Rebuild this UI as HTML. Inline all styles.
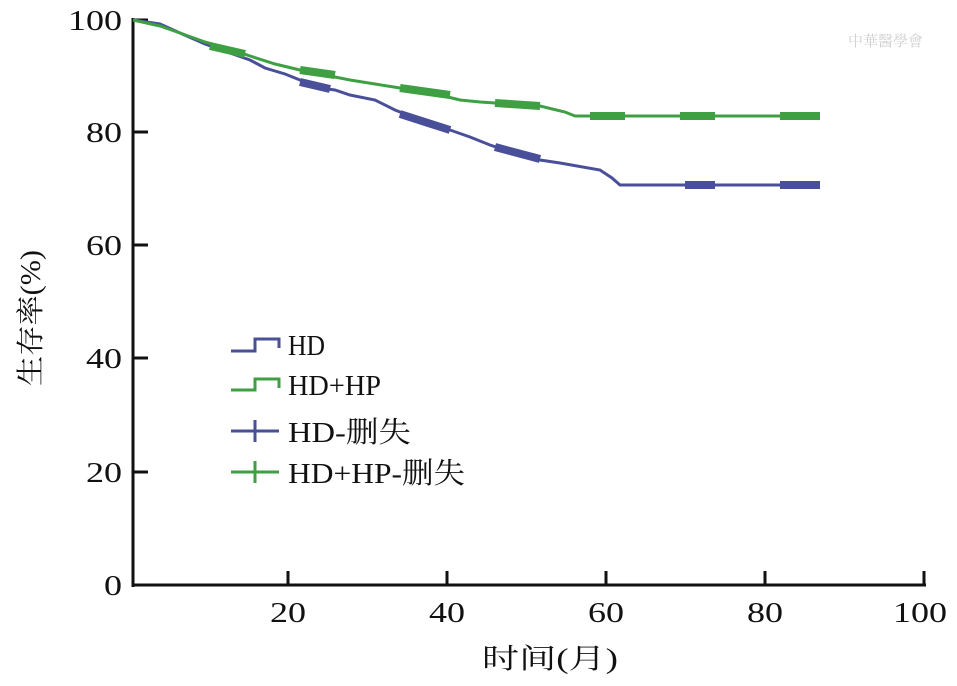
<!DOCTYPE html>
<html><head><meta charset="utf-8"><style>
body{margin:0;background:#fff;width:957px;height:681px;overflow:hidden}
svg text{font-family:"Liberation Serif","Noto Serif CJK SC","Noto Sans CJK SC",serif;fill:#111}
</style></head><body>
<svg width="957" height="681" viewBox="0 0 957 681">
<g stroke="#111" stroke-width="3" fill="none">
<line x1="133" y1="18" x2="133" y2="587"/>
<line x1="132" y1="585" x2="926" y2="585"/>
<line x1="133" y1="20" x2="148" y2="20"/>
<line x1="133" y1="132" x2="148" y2="132"/>
<line x1="133" y1="245" x2="148" y2="245"/>
<line x1="133" y1="358" x2="148" y2="358"/>
<line x1="133" y1="472" x2="148" y2="472"/>
<line x1="288" y1="585" x2="288" y2="571"/>
<line x1="447" y1="585" x2="447" y2="571"/>
<line x1="606" y1="585" x2="606" y2="571"/>
<line x1="765" y1="585" x2="765" y2="571"/>
<line x1="924" y1="585" x2="924" y2="571"/>
</g>
<g font-size="28" text-anchor="end" lengthAdjust="spacingAndGlyphs">
<text x="122" y="30" textLength="54" lengthAdjust="spacingAndGlyphs">100</text>
<text x="122" y="142" textLength="36" lengthAdjust="spacingAndGlyphs">80</text>
<text x="122" y="255" textLength="36" lengthAdjust="spacingAndGlyphs">60</text>
<text x="122" y="368" textLength="36" lengthAdjust="spacingAndGlyphs">40</text>
<text x="122" y="482" textLength="36" lengthAdjust="spacingAndGlyphs">20</text>
<text x="122" y="595" textLength="18" lengthAdjust="spacingAndGlyphs">0</text>
</g>
<g font-size="28">
<text x="270" y="622" textLength="36" lengthAdjust="spacingAndGlyphs">20</text>
<text x="429" y="622" textLength="36" lengthAdjust="spacingAndGlyphs">40</text>
<text x="588" y="622" textLength="36" lengthAdjust="spacingAndGlyphs">60</text>
<text x="747" y="622" textLength="36" lengthAdjust="spacingAndGlyphs">80</text>
<text x="893" y="622" textLength="54" lengthAdjust="spacingAndGlyphs">100</text>
<text x="482" y="668" textLength="136" lengthAdjust="spacingAndGlyphs">时间(月)</text>
</g>
<text font-size="28" transform="translate(40,386) rotate(-90)" textLength="136" lengthAdjust="spacingAndGlyphs">生存率(%)</text>
<polyline fill="none" stroke="#4a4f9a" stroke-width="3" points="133,20 160,24 180,33 205,44 230,53 250,60 265,68 285,74 300,80 320,88 335,90 350,95 375,100 395,110 420,120 450,130 470,137 490,145 520,155 540,160 560,163 600,170 612,178 620,185 820,185"/>
<g stroke="#4a4f9a" stroke-width="8" fill="none"><line x1="300" y1="82" x2="330" y2="89"/><line x1="400" y1="114" x2="450" y2="130"/><line x1="495" y1="147" x2="540" y2="159"/><line x1="685" y1="185" x2="715" y2="185"/><line x1="780" y1="185" x2="820" y2="185"/></g>
<polyline fill="none" stroke="#3fa043" stroke-width="3" points="133,20 160,26 180,33 205,42 230,49 250,56 275,64 300,70 325,75 350,80 375,84 400,88 420,92 440,95 460,100 480,102 540,106 565,112 575,116 820,116"/>
<g stroke="#3fa043" stroke-width="8" fill="none"><line x1="210" y1="46" x2="245" y2="54"/><line x1="300" y1="70" x2="335" y2="75"/><line x1="400" y1="88" x2="450" y2="95"/><line x1="495" y1="103" x2="540" y2="106"/><line x1="590" y1="116" x2="625" y2="116"/><line x1="680" y1="116" x2="715" y2="116"/><line x1="780" y1="116" x2="820" y2="116"/></g>
<g fill="none" stroke-width="3">
<polyline stroke="#4a4f9a" points="231,351 255,351 255,339 279,339 279,348"/>
<polyline stroke="#3fa043" points="231,390 255,390 255,379 279,379 279,388"/>
<line stroke="#4a4f9a" x1="231" y1="431" x2="279" y2="431"/><line stroke="#4a4f9a" x1="255" y1="420" x2="255" y2="442"/>
<line stroke="#3fa043" x1="231" y1="472" x2="279" y2="472"/><line stroke="#3fa043" x1="255" y1="461" x2="255" y2="483"/>
</g>
<g font-size="29">
<text x="288" y="355" textLength="37" lengthAdjust="spacingAndGlyphs">HD</text>
<text x="288" y="395" textLength="93" lengthAdjust="spacingAndGlyphs">HD+HP</text>
<text x="288" y="442" textLength="123" lengthAdjust="spacingAndGlyphs">HD-删失</text>
<text x="288" y="483" textLength="177" lengthAdjust="spacingAndGlyphs">HD+HP-删失</text>
</g>
<text x="848" y="46" font-size="15" style="fill:#d0d0d0">中華醫學會</text>
</svg>
</body></html>
